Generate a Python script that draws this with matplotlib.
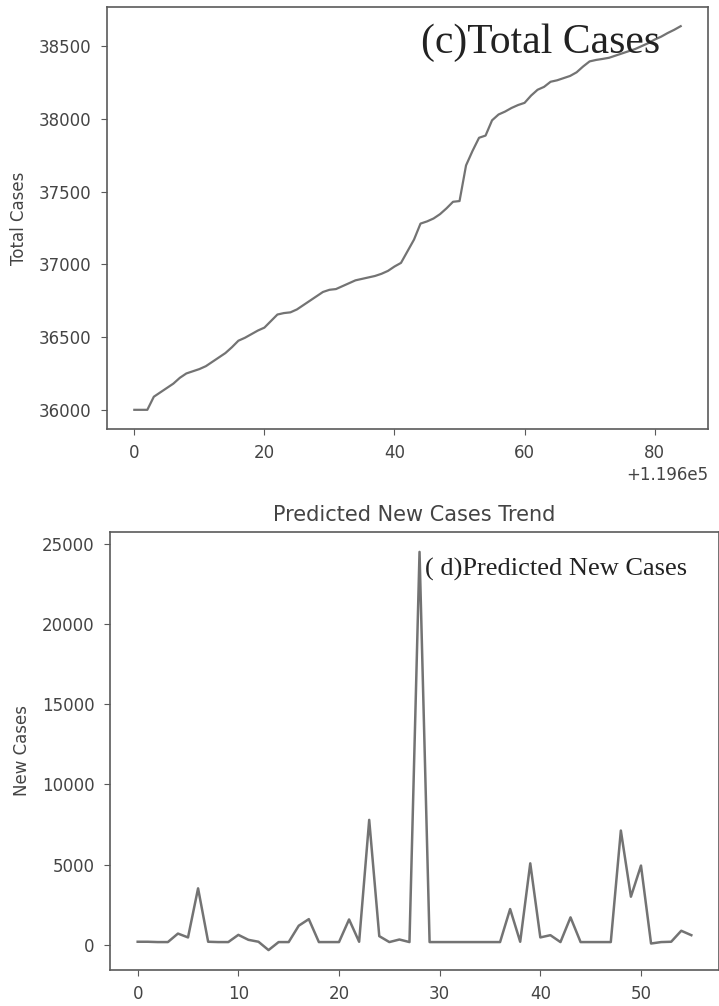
import matplotlib
matplotlib.use("Agg")
import matplotlib.pyplot as plt
import numpy as np

# ---- data ----
day_offset = 119600
total_cases = [36000, 36000, 36000, 36090, 36120, 36150, 36180, 36220, 36250, 36265,
               36280, 36300, 36330, 36360, 36390, 36430, 36475, 36495, 36520, 36545,
               36565, 36610, 36655, 36665, 36670, 36690, 36720, 36750, 36780, 36810,
               36825, 36830, 36850, 36870, 36890, 36900, 36910, 36920, 36935, 36955,
               36985, 37010, 37090, 37170, 37280, 37295, 37315, 37345, 37385, 37430,
               37435, 37680, 37780, 37870, 37885, 37990, 38030, 38050, 38075, 38095,
               38110, 38160, 38200, 38220, 38255, 38265, 38280, 38295, 38320, 38360,
               38395, 38405, 38412, 38420, 38435, 38450, 38465, 38480, 38500, 38520,
               38545, 38565, 38590, 38612, 38637]
total_days = [day_offset + i for i in range(len(total_cases))]

new_cases = [190, 190, 170, 170, 700, 460, 3520, 190, 170, 170,
             620, 310, 190, -330, 170, 170, 1190, 1600, 170, 170,
             170, 1580, 190, 7790, 540, 170, 330, 170, 24500, 170,
             170, 170, 170, 170, 170, 170, 170, 2230, 190, 5080,
             460, 600, 170, 1710, 170, 170, 170, 170, 7125, 3000,
             4940, 80, 170, 190, 875, 600]
new_days = list(range(len(new_cases)))

title_bottom = "Predicted New Cases Trend"
label_c = "(c)Total Cases"
label_d = "( d)Predicted New Cases"

# ---- style ----
line_color = "#737373"
spine_color = "#5a5a5a"
text_color = "#444444"
plt.rcParams["font.family"] = ["DejaVu Sans"]
plt.rcParams["axes.edgecolor"] = spine_color
plt.rcParams["xtick.color"] = spine_color
plt.rcParams["ytick.color"] = spine_color
plt.rcParams["xtick.labelcolor"] = text_color
plt.rcParams["ytick.labelcolor"] = text_color
plt.rcParams["axes.labelcolor"] = text_color
plt.rcParams["xtick.labelsize"] = 12
plt.rcParams["ytick.labelsize"] = 12
plt.rcParams["xtick.major.size"] = 4.5
plt.rcParams["ytick.major.size"] = 4
plt.rcParams["xtick.major.pad"] = 6.5
plt.rcParams["ytick.major.pad"] = 7

W, H = 719, 1006
fig = plt.figure(figsize=(W / 100, H / 100), dpi=100)

def frac(l, t, r, b):
    return [l / W, 1 - b / H, (r - l) / W, (b - t) / H]

# ---- top chart ----
ax1 = fig.add_axes(frac(107, 7, 708, 429))
ax1.plot(total_days, total_cases, color=line_color, lw=1.6)
ax1.set_ylabel("Total Cases", fontsize=12, labelpad=8)
ax1.set_yticks([36000, 36500, 37000, 37500, 38000, 38500])
ax1.set_xticks([day_offset + v for v in (0, 20, 40, 60, 80)])
ax1.xaxis.get_offset_text().set_fontsize(12)
ax1.xaxis.get_offset_text().set_color(text_color)
ax1.text(0.523, 0.915, label_c, transform=ax1.transAxes, ha="left", va="center",
         family=["Liberation Serif"], fontsize=30, color="#222222")

# ---- bottom chart ----
ax2 = fig.add_axes(frac(110, 532, 719, 970))
ax2.plot(new_days, new_cases, color=line_color, lw=1.8)
ax2.set_title(title_bottom, fontsize=15, color=text_color, pad=8)
ax2.set_ylabel("New Cases", fontsize=12, labelpad=8)
ax2.set_yticks([0, 5000, 10000, 15000, 20000, 25000])
ax2.set_xticks([0, 10, 20, 30, 40, 50])
ax2.text(0.517, 0.915, label_d, transform=ax2.transAxes, ha="left", va="center",
         family=["Liberation Serif"], fontsize=19, color="#222222")

for ax in (ax1, ax2):
    for s in ax.spines.values():
        s.set_linewidth(1.2)

fig.savefig("out.png", dpi=100)
